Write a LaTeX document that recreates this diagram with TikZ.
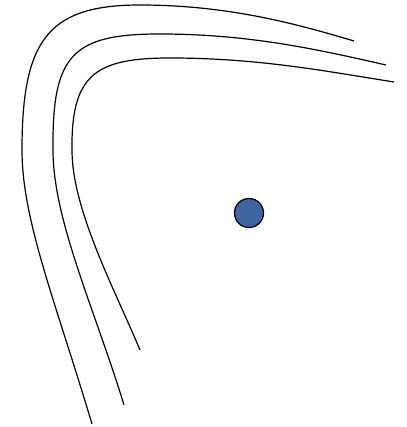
\documentclass[tikz,border=0pt]{standalone}
\begin{document}
\begin{tikzpicture}[x=1pt,y=-1pt,
  curve/.style={line width=1.2pt,black},
  dot/.style={circle,draw=black,line width=1.3pt,fill={rgb,255:red,64;green,101;blue,160},minimum size=29pt,inner sep=0pt}]
\useasboundingbox (0,0) rectangle (406,427);
\draw[curve] (92,424) .. controls (55,300) and (22,220) .. (22,150)
  .. controls (22,40) and (48,5) .. (140,5)
  .. controls (230,5) and (300,25) .. (354,41);
\draw[curve] (124,405) .. controls (95,310) and (53,220) .. (53,150)
  .. controls (52,55) and (72,34) .. (160,34)
  .. controls (250,34) and (320,50) .. (386,65);
\draw[curve] (140,350) .. controls (115,290) and (72,210) .. (72,150)
  .. controls (71,75) and (95,58) .. (170,58)
  .. controls (260,58) and (330,72) .. (394,82);
\node[dot] (d) at (249,213) {};
\end{tikzpicture}
\end{document}
